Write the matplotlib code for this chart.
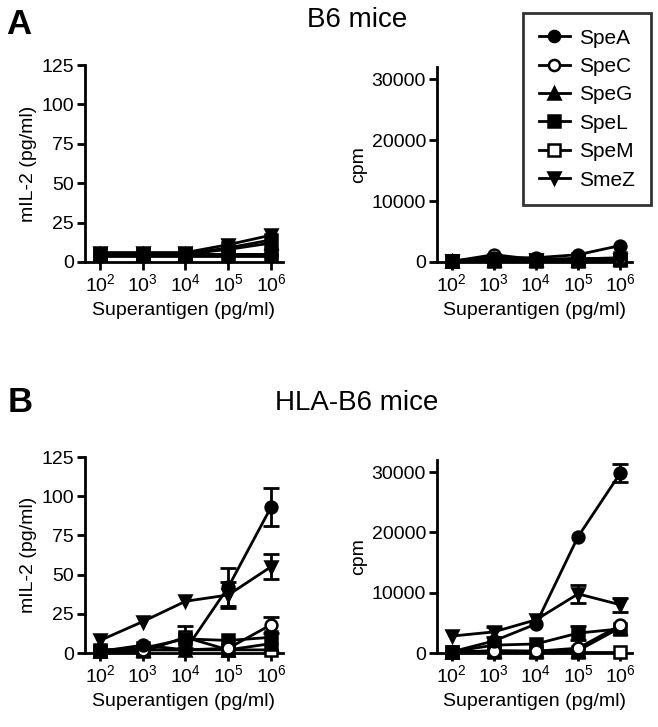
import matplotlib
matplotlib.use("Agg")
import matplotlib.pyplot as plt
from matplotlib.lines import Line2D
import numpy as np

plt.rcParams['font.family'] = ['Liberation Sans', 'DejaVu Sans']
plt.rcParams['mathtext.fontset'] = 'custom'
plt.rcParams['mathtext.rm'] = 'Liberation Sans'

doses = [1e2, 1e3, 1e4, 1e5, 1e6]
series = ["SpeA", "SpeC", "SpeG", "SpeL", "SpeM", "SmeZ"]

# B6 mice - IL-2
b6_il2 = {
    "SpeA": [5, 5, 5, 5, 5],
    "SpeC": [4, 4, 4, 4, 4],
    "SpeG": [5, 5, 5, 8, 12],
    "SpeL": [5, 5, 5, 9, 14],
    "SpeM": [5, 5, 5, 5, 5],
    "SmeZ": [6, 6, 6, 11, 17],
}
b6_il2_err = {k: [0, 0, 0, 0, 0] for k in series}

# B6 mice - cpm
b6_cpm = {
    "SpeA": [200, 700, 700, 1200, 2700],
    "SpeC": [100, 1200, 400, 600, 500],
    "SpeG": [100, 300, 300, 400, 500],
    "SpeL": [200, 300, 400, 500, 700],
    "SpeM": [200, 200, 200, 200, 300],
    "SmeZ": [200, 200, 300, 200, 300],
}
b6_cpm_err = {k: [0, 0, 0, 0, 0] for k in series}

# HLA-B6 mice - IL-2
hla_il2 = {
    "SpeA": [1, 5, 2, 42, 93],
    "SpeC": [1, 2, 2, 3, 18],
    "SpeG": [1, 2, 2, 2, 6],
    "SpeL": [2, 3, 9, 8, 10],
    "SpeM": [1, 1, 10, 2, 2],
    "SmeZ": [8, 20, 33, 37, 55],
}
hla_il2_err = {
    "SpeA": [0, 0, 0, 12, 12],
    "SpeC": [0, 0, 0, 0, 5],
    "SpeG": [0, 0, 0, 0, 0],
    "SpeL": [0, 0, 0, 0, 0],
    "SpeM": [0, 0, 7, 0, 0],
    "SmeZ": [0, 0, 0, 8, 8],
}

# HLA-B6 mice - cpm
hla_cpm = {
    "SpeA": [200, 2000, 4800, 19300, 29800],
    "SpeC": [200, 300, 300, 800, 4600],
    "SpeG": [100, 400, 300, 400, 4200],
    "SpeL": [200, 1300, 1500, 3300, 4000],
    "SpeM": [200, 200, 200, 200, 200],
    "SmeZ": [2800, 3500, 5500, 9800, 8000],
}
hla_cpm_err = {
    "SpeA": [0, 0, 0, 0, 1500],
    "SpeC": [0, 0, 0, 0, 0],
    "SpeG": [0, 0, 0, 0, 0],
    "SpeL": [0, 0, 0, 1200, 0],
    "SpeM": [0, 0, 0, 0, 0],
    "SmeZ": [0, 800, 0, 1500, 1200],
}

styles = {
    "SpeA": dict(marker="o", mfc="black"),
    "SpeC": dict(marker="o", mfc="white"),
    "SpeG": dict(marker="^", mfc="black"),
    "SpeL": dict(marker="s", mfc="black"),
    "SpeM": dict(marker="s", mfc="white"),
    "SmeZ": dict(marker="v", mfc="black"),
}

W, H = 658, 727
fig = plt.figure(figsize=(W / 100, H / 100), dpi=100)


def px_axes(x0, x1, ytop, ybot):
    return fig.add_axes([x0 / W, 1 - ybot / H, (x1 - x0) / W, (ybot - ytop) / H])


FS = 14


def draw(ax, data, err, ylim, yticks, ylabel):
    draw_order = ["SpeM", "SpeG", "SpeL", "SpeC", "SmeZ", "SpeA"]
    for i, name in enumerate(draw_order):
        y = np.array(data[name], dtype=float)
        e = np.array(err[name], dtype=float)
        x = np.array(doses)
        st = styles[name]
        ax.plot(x, y, color="black", lw=2, marker=st["marker"], mfc=st["mfc"],
                mec="black", mew=1.8, ms=8.5, zorder=3 + i, clip_on=False)
        m = e > 0
        if m.any():
            ax.errorbar(x[m], y[m], yerr=e[m], fmt="none", ecolor="black",
                        elinewidth=2, capsize=6, capthick=2, zorder=2, clip_on=False)
    ax.set_xscale("log")
    ax.set_xlim(10 ** 1.65, 10 ** 6.28)
    ax.set_ylim(*ylim)
    ax.set_xticks(doses)
    ax.minorticks_off()
    ax.set_xticklabels([r"$\mathregular{10^{%d}}$" % int(np.log10(d)) for d in doses])
    ax.set_yticks(yticks)
    ax.set_yticklabels([str(t) for t in yticks])
    for s in ["top", "right"]:
        ax.spines[s].set_visible(False)
    for s in ["left", "bottom"]:
        ax.spines[s].set_linewidth(2)
    ax.tick_params(direction="out", length=6, width=2, labelsize=FS, pad=2)
    ax.set_ylabel(ylabel, fontsize=FS, labelpad=3)
    ax.set_xlabel("Superantigen (pg/ml)", fontsize=FS, labelpad=5)


ax1 = px_axes(85, 283, 65, 262)
draw(ax1, b6_il2, b6_il2_err, (0, 125), [0, 25, 50, 75, 100, 125], "mIL-2 (pg/ml)")
ax2 = px_axes(437, 632, 67, 262)
draw(ax2, b6_cpm, b6_cpm_err, (0, 32000), [0, 10000, 20000, 30000], "cpm")
ax3 = px_axes(85, 283, 457, 653)
draw(ax3, hla_il2, hla_il2_err, (0, 125), [0, 25, 50, 75, 100, 125], "mIL-2 (pg/ml)")
ax4 = px_axes(437, 632, 460, 653)
draw(ax4, hla_cpm, hla_cpm_err, (0, 32000), [0, 10000, 20000, 30000], "cpm")

fig.text(6 / W, 1 - 24 / H, "A", fontsize=25, fontweight="bold", va="center", ha="left")
fig.text(357 / W, 1 - 20 / H, "B6 mice", fontsize=20, va="center", ha="center")
fig.text(8 / W, 1 - 402 / H, "B", fontsize=25, fontweight="bold", va="center", ha="left")
fig.text(357 / W, 1 - 403 / H, "HLA-B6 mice", fontsize=20, va="center", ha="center")

handles = [Line2D([0], [0], color="black", lw=2, marker=styles[n]["marker"],
                  mfc=styles[n]["mfc"], mec="black", mew=1.8, ms=8) for n in series]
leg = fig.legend(handles, series, loc="upper left",
                 bbox_to_anchor=(523 / W, 1 - 13 / H), fontsize=15,
                 frameon=True, fancybox=False, edgecolor="black",
                 handlelength=1.5, handletextpad=0.45, labelspacing=0.45,
                 borderpad=0.75, borderaxespad=0)
leg.get_frame().set_linewidth(2)

fig.savefig("out.png", dpi=100)
